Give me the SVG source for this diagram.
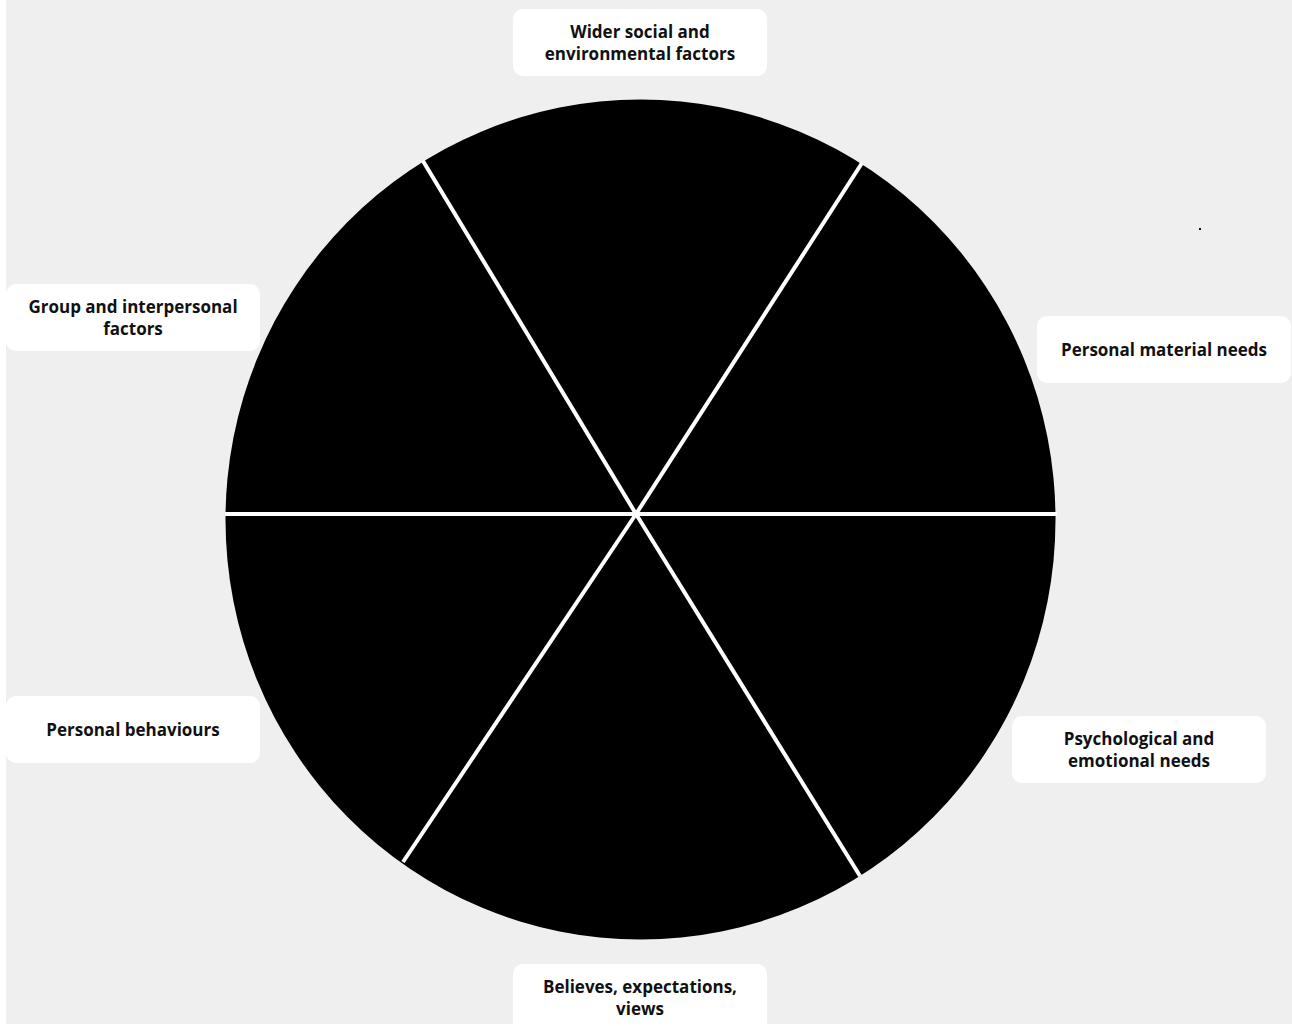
<svg xmlns="http://www.w3.org/2000/svg" width="1292" height="1026" viewBox="0 0 1292 1026">
  <style>
    .box { fill: #ffffff; }
    .lbl { font-family: "Open Sans", "Noto Sans", "Liberation Sans", sans-serif; font-weight: 700; font-size: 17px; fill: #111111; text-anchor: middle; }
    .div { stroke: #ffffff; stroke-width: 4; stroke-linecap: butt; fill: none; }
  </style>
  <rect x="0" y="0" width="1292" height="1026" fill="#ffffff"/>
  <rect x="6" y="0" width="1286" height="1024" fill="#efefef"/>
  <g id="wheel">
    <ellipse cx="640.5" cy="519.5" rx="415" ry="420" fill="#000000"/>
  </g>
  <g id="connectors">
    <line class="div" x1="225" y1="514" x2="1057" y2="514"/>
    <line class="div" x1="423" y1="161" x2="636" y2="514"/>
    <line class="div" x1="862" y1="163" x2="636" y2="514"/>
    <line class="div" x1="403" y1="862" x2="636" y2="514"/>
    <line class="div" x1="860" y1="876" x2="636" y2="514"/>
  </g>
  <g id="wider">
    <rect class="box" x="513" y="9" width="254" height="67" rx="10"/>
    <text class="lbl" x="640" y="38">Wider social and</text>
    <text class="lbl" x="640" y="60">environmental factors</text>
  </g>
  <g id="group">
    <rect class="box" x="6" y="284" width="254" height="67" rx="10"/>
    <text class="lbl" x="133" y="313">Group and interpersonal</text>
    <text class="lbl" x="133" y="335">factors</text>
  </g>
  <g id="material">
    <rect class="box" x="1037" y="316" width="254" height="67" rx="10"/>
    <text class="lbl" x="1164" y="356">Personal material needs</text>
  </g>
  <g id="behaviours">
    <rect class="box" x="6" y="696" width="254" height="67" rx="10"/>
    <text class="lbl" x="133" y="736">Personal behaviours</text>
  </g>
  <g id="psychological">
    <rect class="box" x="1012" y="716" width="254" height="67" rx="10"/>
    <text class="lbl" x="1139" y="745">Psychological and</text>
    <text class="lbl" x="1139" y="767">emotional needs</text>
  </g>
  <g id="believes">
    <rect class="box" x="513" y="964" width="254" height="67" rx="10"/>
    <text class="lbl" x="640" y="993">Believes, expectations,</text>
    <text class="lbl" x="640" y="1015">views</text>
  </g>
  <rect id="dot" x="1199" y="228" width="2" height="2" fill="#111111"/>
</svg>
